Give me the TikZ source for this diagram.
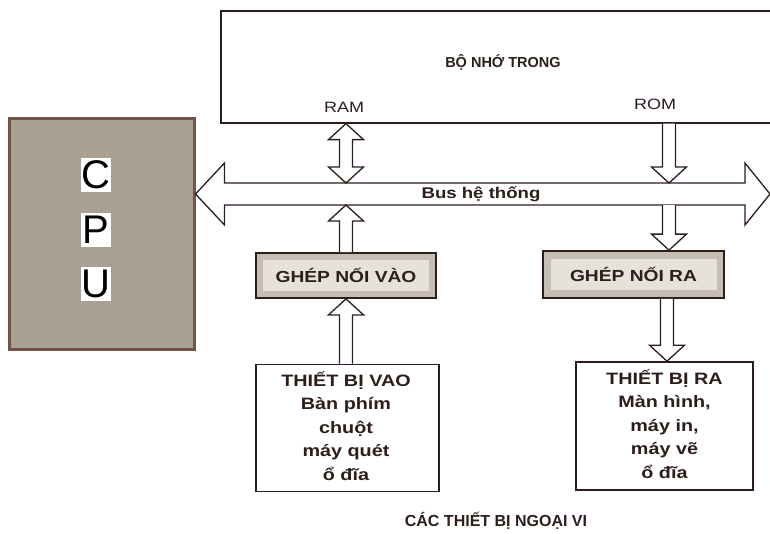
\documentclass[tikz,border=0pt]{standalone}
\usepackage{fontspec}
\setmainfont{Liberation Sans}[FakeStretch=1.2]
\newfontfamily\cpufont{Liberation Sans}
\usetikzlibrary{calc}
\definecolor{ink}{RGB}{45,30,28}
\definecolor{cpufill}{RGB}{170,160,146}
\definecolor{cpuline}{RGB}{112,84,74}
\definecolor{gfill}{RGB}{198,190,178}
\definecolor{gin}{RGB}{230,226,219}
\tikzset{
  blk/.style={draw=ink, fill=white, line width=1.3pt, line join=miter},
  plainbox/.style={draw=ink, fill=white, line width=1.6pt, inner sep=0pt},
  gbox/.style={draw=ink, fill=gfill, line width=1.8pt, inner sep=0pt},
  gtext/.style={fill=gin, inner sep=0pt, minimum width=166pt, minimum height=31pt, font=\bfseries\fontsize{16}{19}\selectfont, text=ink},
  cpuletter/.style={fill=white, inner sep=0pt, minimum width=30pt, minimum height=34pt, font=\cpufont\fontsize{40}{40}\selectfont},
  devtext/.style={align=center, font=\bfseries\fontsize{16.5}{23.5}\selectfont, text=ink},
  lbl/.style={font=\fontsize{15}{17}\selectfont, text=ink},
  blbl/.style={font=\cpufont\bfseries\fontsize{14.5}{17}\selectfont, text=ink}
}
\newcommand{\uparr}[2]{% shaft from #1 up to tip #2
  \path[blk] ($(#1)+(-6.5,0)$) -- ($(#2)+(-6.5,16)$) -- ($(#2)+(-17.5,16)$) -- (#2)
    -- ($(#2)+(17.5,16)$) -- ($(#2)+(6.5,16)$) -- ($(#1)+(6.5,0)$);}
\newcommand{\downarr}[2]{% shaft from #1 down to tip #2
  \path[blk] ($(#1)+(-6.5,0)$) -- ($(#2)+(-6.5,-16)$) -- ($(#2)+(-17.5,-16)$) -- (#2)
    -- ($(#2)+(17.5,-16)$) -- ($(#2)+(6.5,-16)$) -- ($(#1)+(6.5,0)$);}
\begin{document}
\begin{tikzpicture}[x=1pt,y=-1pt]
\useasboundingbox (0,0) rectangle (770,533);
\begin{scope}
\clip (0,0) rectangle (770,533);
% memory
\node[plainbox, anchor=north west, minimum width=570pt, minimum height=112pt] (mem) at (220,10) {};
\node[blbl] (memt) at (503,62) {BỘ NHỚ TRONG};
\node[lbl] (ram) at (344,107) {RAM};
\node[lbl] (rom) at (655,104) {ROM};
% CPU
\node[draw=cpuline, fill=cpufill, line width=2.5pt, anchor=north west, minimum width=185pt, minimum height=231pt, inner sep=0pt] (cpu) at (8,117) {};
\node[cpuletter] (lc) at (96,175) {C};
\node[cpuletter] (lp) at (96,230) {P};
\node[cpuletter] (lu) at (96,284) {U};
% guide coordinates
\coordinate (busmid) at (0,194);
\coordinate (bt) at (0,183);
\coordinate (bb) at (0,205);
\coordinate (xram) at (346,0);
\coordinate (xrom) at (669,0);
\coordinate (xout) at (667,0);
\coordinate (busL) at (cpu.east |- busmid);
\coordinate (busR) at (770,194);
% bus
\path[blk] (busL) -- ($(busL)+(29,-31)$) -- ($(busL)+(29,-11)$) -- ($(busR)+(-25,-11)$)
  -- ($(busR)+(-25,-31)$) -- (busR) -- ($(busR)+(-25,31)$) -- ($(busR)+(-25,11)$)
  -- ($(busL)+(29,11)$) -- ($(busL)+(29,31)$) -- cycle;
\node[text=ink, font=\bfseries\fontsize{15.5}{17}\selectfont] (bust) at (481,194) {Bus hệ thống};
% interface boxes
\node[gbox, minimum width=180pt, minimum height=45pt] (gnv) at (346,275.5) {};
\node[gtext] (gnvt) at (gnv) {GHÉP NỐI VÀO};
\node[gbox, minimum width=181pt, minimum height=47pt] (gnr) at (633.5,274.5) {};
\node[gtext] (gnrt) at (gnr) {GHÉP NỐI RA};
% devices
\node[plainbox, minimum width=183pt, minimum height=127pt] (tbv) at (347.5,428) {};
\node[devtext] (tbvt) at (346,426) {THIẾT BỊ VAO\\Bàn phím\\chuột\\máy quét\\ổ đĩa};
\node[plainbox, minimum width=177pt, minimum height=128pt] (tbr) at (664.5,426) {};
\node[devtext] (tbrt) at (664.5,424) {THIẾT BỊ RA\\Màn hình,\\máy in,\\máy vẽ\\ổ đĩa};
% RAM double arrow
\coordinate (ramA) at (mem.south -| xram);
\coordinate (ramB) at (bt -| xram);
\path[blk] (ramA) -- ($(ramA)+(17.5,16)$) -- ($(ramA)+(6.5,16)$) -- ($(ramB)+(6.5,-16)$)
  -- ($(ramB)+(17.5,-16)$) -- (ramB) -- ($(ramB)+(-17.5,-16)$) -- ($(ramB)+(-6.5,-16)$)
  -- ($(ramA)+(-6.5,16)$) -- ($(ramA)+(-17.5,16)$) -- cycle;
% other arrows
\coordinate (inA) at (gnv.north -| xram);
\coordinate (inB) at (bb -| xram);
\uparr{inA}{inB}
\coordinate (devA) at (tbv.north -| xram);
\coordinate (devB) at (gnv.south -| xram);
\uparr{devA}{devB}
\coordinate (romA) at (mem.south -| xrom);
\coordinate (romB) at (bt -| xrom);
\downarr{romA}{romB}
\coordinate (outA) at (bb -| xrom);
\coordinate (outB) at (gnr.north -| xrom);
\downarr{outA}{outB}
\coordinate (odA) at (gnr.south -| xout);
\coordinate (odB) at (tbr.north -| xout);
\downarr{odA}{odB}
% footer
\node[blbl, font=\cpufont\bfseries\fontsize{16}{18}\selectfont] (foot) at (496,521) {CÁC THIẾT BỊ NGOẠI VI};
\end{scope}
\end{tikzpicture}
\end{document}
